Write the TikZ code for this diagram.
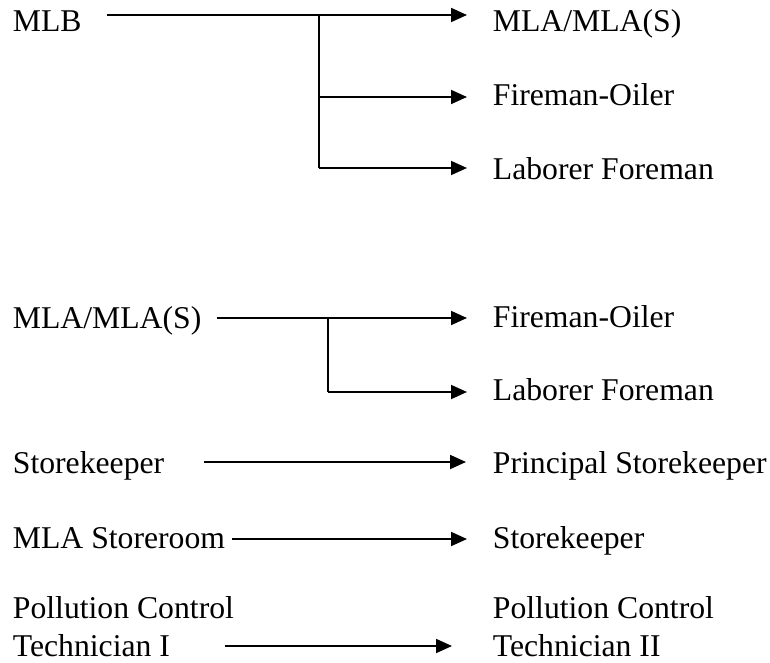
\documentclass[tikz,border=0pt]{standalone}
\usepackage{fontspec}
\setmainfont{Liberation Serif}
\usetikzlibrary{arrows.meta}
\tikzset{>={Triangle[length=16pt,width=14pt]}}
\tikzset{title/.style={anchor=base west,inner sep=0pt,align=left,
  font=\fontsize{31.7}{38}\selectfont}}

\begin{document}
\begin{tikzpicture}[x=1pt,y=-1pt,line width=1.8pt]
\useasboundingbox (0,0) rectangle (770,663);
% first chart
\coordinate (A) at (107,15);
\coordinate (J) at (319,15);
\coordinate (J1) at (319,97);
\coordinate (J2) at (319,168);
\coordinate (T) at (467,15);
\coordinate (T1) at (467,97);
\coordinate (T2) at (467,168);

\node[title] (mlb) at (12,32) {MLB};
\node[title] (mlaA) at (492,32) {MLA/MLA(S)};
\node[title] (fireA) at (492,106) {Fireman-Oiler};
\node[title] (laborA) at (492,179) {Laborer Foreman};

\draw[->] (A) -- (T);
\draw[line width=1.5pt] (J) -- (J2);
\draw[->] (J1) -- (T1);
\draw[->] (J2) -- (T2);

% second chart
\coordinate (B) at (217,318);
\coordinate (K) at (328,318);
\coordinate (K1) at (328,392);
\coordinate (U) at (467,318);
\coordinate (U1) at (467,392);

\node[title] (mlaB) at (12,328) {MLA/MLA(S)};
\node[title] (fireB) at (492,327) {Fireman-Oiler};
\node[title] (laborB) at (492,400) {Laborer Foreman};

\draw[->] (B) -- (U);
\draw[line width=1.5pt] (K) -- (K1);
\draw[->] (K1) -- (U1);

% single moves
\coordinate (C) at (204,462);
\coordinate (V) at (466,462);
\coordinate (D) at (232,539);
\coordinate (W) at (467,539);
\coordinate (E) at (225,646);
\coordinate (X) at (452,646);

\node[title] (keepA) at (12,473) {Storekeeper};
\node[title] (principal) at (492,473) {Principal Storekeeper};
\node[title] (storeroom) at (12,548) {MLA Storeroom};
\node[title] (keepB) at (492,548) {Storekeeper};
\node[title] (pollA) at (12,656) {Pollution Control\\Technician I};
\node[title] (pollB) at (492,656) {Pollution Control\\Technician II};

\draw[->] (C) -- (V);
\draw[->] (D) -- (W);
\draw[->] (E) -- (X);
\end{tikzpicture}
\end{document}
